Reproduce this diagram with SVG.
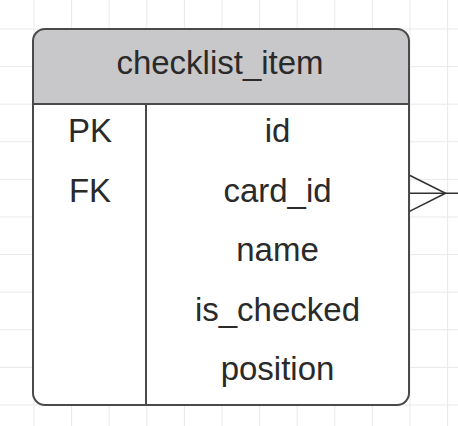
<svg xmlns="http://www.w3.org/2000/svg" width="458" height="426" viewBox="0 0 458 426">
<style>
.grid line{stroke:#e9e9e9;stroke-width:1}
.t{font-family:"Liberation Sans",Arial,sans-serif;font-size:33px;fill:#2a2a2a;text-anchor:middle}
.edge{stroke:#4a4a4a;stroke-width:2;fill:none}
.conn{stroke:#333;stroke-width:1.6;fill:none}
</style>
<rect width="458" height="426" fill="#fff"/>
<g class="grid">
<line x1="34" y1="0" x2="34" y2="426"/><line x1="71.6" y1="0" x2="71.6" y2="426"/><line x1="109.2" y1="0" x2="109.2" y2="426"/><line x1="146.8" y1="0" x2="146.8" y2="426"/><line x1="184.4" y1="0" x2="184.4" y2="426"/><line x1="222" y1="0" x2="222" y2="426"/><line x1="259.6" y1="0" x2="259.6" y2="426"/><line x1="297.2" y1="0" x2="297.2" y2="426"/><line x1="334.8" y1="0" x2="334.8" y2="426"/><line x1="372.4" y1="0" x2="372.4" y2="426"/><line x1="410" y1="0" x2="410" y2="426"/><line x1="447.6" y1="0" x2="447.6" y2="426"/>
<line x1="0" y1="29" x2="458" y2="29"/><line x1="0" y1="66.6" x2="458" y2="66.6"/><line x1="0" y1="104.2" x2="458" y2="104.2"/><line x1="0" y1="141.8" x2="458" y2="141.8"/><line x1="0" y1="179.4" x2="458" y2="179.4"/><line x1="0" y1="217" x2="458" y2="217"/><line x1="0" y1="254.6" x2="458" y2="254.6"/><line x1="0" y1="292.2" x2="458" y2="292.2"/><line x1="0" y1="329.8" x2="458" y2="329.8"/><line x1="0" y1="367.4" x2="458" y2="367.4"/><line x1="0" y1="405" x2="458" y2="405"/>
</g>
<g id="connectors">
<line class="conn" x1="409" y1="193.3" x2="458" y2="193.3"/>
<polyline class="conn" points="409,175 445.5,193.3 409,211.6"/>
</g>
<g id="checklist_item">
<rect x="33" y="29" width="376" height="376" rx="12" fill="#fff"/>
<path d="M33,104 V41 Q33,29 45,29 H397 Q409,29 409,41 V104 Z" fill="#c8c7c9"/>
<rect class="edge" x="33" y="29" width="376" height="376" rx="12"/>
<line class="edge" x1="33" y1="104" x2="409" y2="104"/>
<line class="edge" x1="146" y1="104" x2="146" y2="405"/>
<text class="t" x="220" y="74">checklist_item</text>
<text class="t" x="90" y="142">PK</text>
<text class="t" x="90" y="201.5">FK</text>
<text class="t" x="277.5" y="142">id</text>
<text class="t" x="277.5" y="201.5">card_id</text>
<text class="t" x="277.5" y="261">name</text>
<text class="t" x="277.5" y="320.5">is_checked</text>
<text class="t" x="277.5" y="380">position</text>
</g>
</svg>
